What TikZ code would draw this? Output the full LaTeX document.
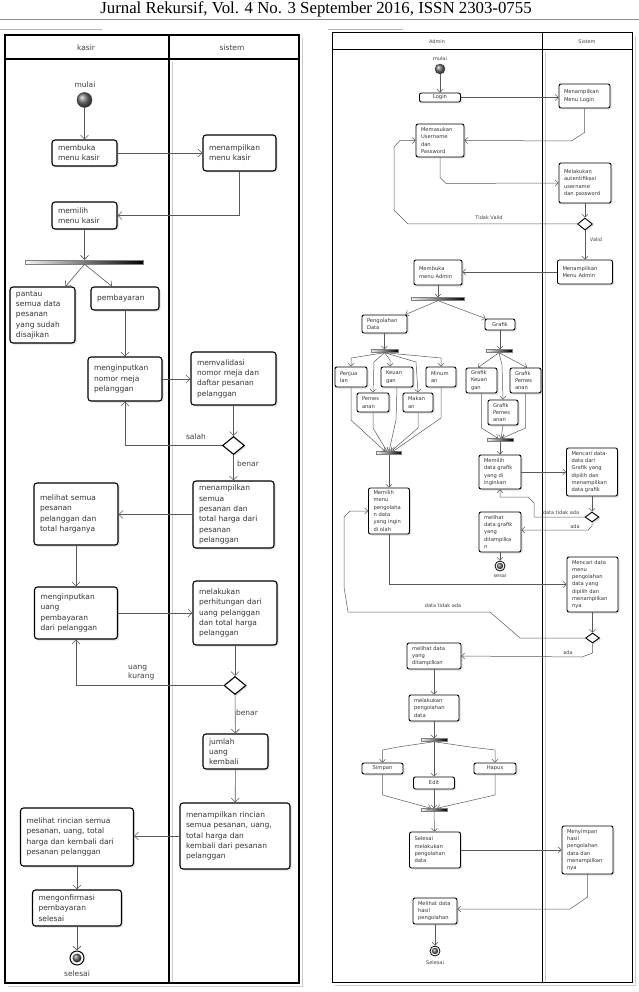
\documentclass[tikz,border=0pt]{standalone}
\usepackage{fontspec}
\setmainfont{DejaVu Sans}
\newfontfamily\jurnalfont{Liberation Serif}
\usetikzlibrary{arrows.meta,shapes.geometric,shadows}

\begin{document}
\begin{tikzpicture}[
x=1pt, y=-1pt,
aksi/.style={
draw,
rounded corners=3pt,
line width=1.1pt,
fill=white,
align=left,
text=black!80,
inner xsep=6pt,
inner ysep=1pt,
font=\fontsize{7.5}{10.3}\selectfont,
drop shadow={shadow xshift=1.5pt, shadow yshift=-1.5pt, opacity=.25}
},
aksikecil/.style={
aksi,
rounded corners=2pt,
line width=0.9pt,
inner xsep=5pt,
font=\fontsize{5.2}{7.3}\selectfont
},
teks/.style={text=black!75, inner sep=1pt, font=\fontsize{7.5}{9}\selectfont},
tekskecil/.style={text=black!75, inner sep=1pt, font=\fontsize{5}{6}\selectfont},
batang/.style={draw=black!50, left color=black!5, right color=black, inner sep=0pt, minimum height=4pt},
keputusan/.style={diamond, draw, fill=white, line width=1.1pt, inner sep=0pt,
drop shadow={shadow xshift=1.5pt, shadow yshift=-1.5pt, opacity=.25}},
awal/.style={circle, draw=black!80, ball color=black!55, inner sep=0pt},
akhir/.style={circle, draw, line width=1pt, fill=white, inner sep=0pt},
panah/.style={draw=black!65, line width=0.6pt, -{Straight Barb[length=4pt,width=8pt]}},
panahkecil/.style={draw=black!65, line width=0.5pt, -{Straight Barb[length=3pt,width=6pt]}}
]

\useasboundingbox (0,0) rectangle (639,992);

% kop jurnal
\node[anchor=base, text=black] (judul) at (316,14)
{\jurnalfont\fontsize{16.8}{17}\selectfont Jurnal Rekursif, Vol. 4 No. 3 September 2016, ISSN 2303-0755};
\draw[black!45, line width=0.8pt] (0,19.5) -- (639,19.5);
\draw[black!30, line width=0.6pt] (0,29) -- (102,29);
\draw[black!30, line width=0.6pt] (328,29) -- (403,29);

% ---------- diagram kasir ----------
\draw[black!20, line width=1pt] (302,38) -- (302,986) -- (8,986);
\draw[black!20, line width=1pt] (172,62) -- (172,983);
\draw[line width=1.3pt] (5,35) rectangle (299,983);
\draw[line width=1.3pt] (5,59) -- (299,59);
\draw[line width=1.3pt] (169,35) -- (169,983);

\node[teks] (hk1) at (86,48) {kasir};
\node[teks] (hk2) at (232,48) {sistem};

\node[teks] (lk1) at (85,85) {mulai};
\node[awal, minimum size=15pt] (k1) at (84.5,100) {};

\node[aksi, text width=53pt, minimum height=26pt] (k2) at (84.5,153)
{membuka\\menu kasir};

\node[aksi, text width=61pt, minimum height=36pt] (k3) at (239.5,153)
{menampilkan\\menu kasir};

\node[aksi, text width=53pt, minimum height=27pt] (k4) at (84.5,215.5)
{memilih\\menu kasir};

\node[batang, minimum width=118pt] (k5) at (84.5,262) {};

\node[aksi, text width=53pt, minimum height=56pt] (k6) at (42.5,315)
{pantau\\semua data\\pesanan\\yang sudah\\disajikan};

\node[aksi, text width=56pt, minimum height=23pt] (k7) at (125,298.5)
{pembayaran};

\node[aksi, text width=62pt, minimum height=44pt] (k8) at (125,379)
{menginputkan\\nomor meja\\pelanggan};

\node[aksi, text width=73pt, minimum height=53pt] (k9) at (233.5,378.5)
{memvalidasi\\nomor meja dan\\daftar pesanan\\pelanggan};

\node[keputusan, minimum width=22pt, minimum height=18pt] (k10) at (233.5,445.5) {};

\node[aksi, text width=69pt, minimum height=67pt] (k11) at (233.5,514.5)
{menampilkan\\semua\\pesanan dan\\total harga dari\\pesanan\\pelanggan};

\node[aksi, text width=72pt, minimum height=62pt] (k12) at (76,514)
{melihat semua\\pesanan\\pelanggan dan\\total harganya};

\node[aksi, text width=71pt, minimum height=52pt] (k13) at (76,613)
{menginputkan\\uang\\pembayaran\\dari pelanggan};

\node[aksi, text width=72pt, minimum height=64pt] (k14) at (235,613)
{melakukan\\perhitungan dari\\uang pelanggan\\dan total harga\\pelanggan};

\node[keputusan, minimum width=22pt, minimum height=18pt] (k15) at (235,685.5) {};

\node[aksi, text width=53pt, minimum height=35pt] (k16) at (235.5,751.5)
{jumlah\\uang\\kembali};

\node[aksi, text width=98pt, minimum height=66pt] (k17) at (235,836)
{menampilkan rincian\\semua pesanan, uang,\\total harga dan\\kembali dari pesanan\\pelanggan};

\node[aksi, text width=101pt, minimum height=58pt] (k18) at (77,837)
{melihat rincian semua\\pesanan, uang, total\\harga dan kembali dari\\pesanan pelanggan};

\node[aksi, text width=77pt, minimum height=36pt] (k19) at (77,908)
{mengonfirmasi\\pembayaran\\selesai};

\node[akhir, minimum size=14pt] (k20) at (77,958) {};
\shade[ball color=black!60] (k20) circle (4.5pt);
\node[teks] (lk2) at (77,974) {selesai};

\draw[panah] (k1) -- (k2);
\draw[panah] (k2) -- (k3);
\draw[panah] (k3.south) |- (k4.east);
\draw[panah] (k4) -- (k5);
\draw[panah] (k5.south) -- ([xshift=-10pt]k6.north east);
\draw[panah] (k5.south) -- ([xshift=-13pt]k7.north);
\draw[panah] (k7) -- (k8);
\draw[panah] (k8.east) -- (k8.east -| k9.west);
\draw[panah] (k9) -- (k10);
\draw[panah] (k10.west) -| (k8.south);
\draw[panah] (k10) -- (k11);
\draw[panah] (k11.west) -- (k11.west -| k12.east);
\draw[panah] (k12) -- (k13);
\draw[panah] (k13) -- (k14);
\draw[panah] (k14) -- (k15);
\draw[panah] (k15.west) -| (k13.south);
\draw[panah] (k15) -- (k16);
\draw[panah] (k16) -- (k17);
\draw[panah] (k17.west) -- (k17.west -| k18.east);
\draw[panah] (k18) -- (k19);
\draw[panah] (k19) -- (k20);

\node[teks] (lk3) at (196,437) {salah};
\node[teks] (lk4) at (248,464) {benar};
\node[teks, anchor=west, align=left] (lk5) at (127,673) {uang\\kurang};
\node[teks] (lk6) at (247,713) {benar};

% ---------- diagram admin ----------
\draw[black!20, line width=0.9pt] (635,36) -- (635,985) -- (335,985);
\draw[black!20, line width=0.9pt] (545,52) -- (545,982);
\draw[line width=1pt] (332,33) rectangle (632,982);
\draw[line width=1pt] (332,50) -- (632,50);
\draw[line width=1pt] (542,33) -- (542,982);

\node[tekskecil] (ha1) at (437,42) {Admin};
\node[tekskecil] (ha2) at (587,42) {Sistem};

\node[tekskecil] (la1) at (440,59) {mulai};
\node[awal, minimum size=10pt] (a1) at (440,69) {};

\node[aksikecil, text width=31pt, minimum height=9pt, align=center] (a2) at (440,97.5)
{Login};

\node[aksikecil, text width=41pt, minimum height=24pt] (a3) at (584.5,96)
{Menampilkan\\Menu Login};

\node[aksikecil, text width=38pt, minimum height=33pt] (a4) at (440,140.5)
{Memasukan\\Username\\dan\\Password};

\node[aksikecil, text width=42pt, minimum height=40pt] (a5) at (585,183)
{Melakukan\\autentifikasi\\username\\dan password};

\node[keputusan, line width=0.9pt, minimum width=15pt, minimum height=12pt] (a6) at (585,224) {};

\node[aksikecil, text width=45pt, minimum height=24pt] (a7) at (585,272)
{Menampilkan\\Menu Admin};

\node[aksikecil, text width=38pt, minimum height=25pt] (a8) at (438,272.5)
{Membuka\\menu Admin};

\node[batang, minimum width=53pt, minimum height=3pt] (a9) at (438,299) {};

\node[aksikecil, text width=35pt, minimum height=18pt] (a10) at (384.5,324)
{Pengolahan\\Data};

\node[aksikecil, text width=20pt, minimum height=11pt, align=center] (a11) at (500,324.5)
{Grafik};

\node[batang, minimum width=27pt, minimum height=3pt] (a12) at (384.5,351) {};
\node[batang, minimum width=26pt, minimum height=3pt] (a13) at (499,351) {};

\node[aksikecil, text width=22pt, minimum height=20pt] (a14) at (351,377)
{Penjua\\lan};
\node[aksikecil, text width=22pt, minimum height=20pt] (a15) at (397,377)
{Keuan\\gan};
\node[aksikecil, text width=20pt, minimum height=20pt] (a16) at (441,377)
{Minum\\an};
\node[aksikecil, text width=22pt, minimum height=19pt] (a17) at (373,402.5)
{Pemes\\anan};
\node[aksikecil, text width=20pt, minimum height=19pt] (a18) at (418,402.5)
{Makan\\an};

\node[batang, minimum width=25pt, minimum height=3pt] (a19) at (389,453) {};

\node[aksikecil, text width=21pt, minimum height=25pt] (a20) at (481.5,380.5)
{Grafik\\Keuan\\gan};
\node[aksikecil, text width=21pt, minimum height=25pt] (a21) at (525.5,380.5)
{Grafik\\Pemes\\anan};
\node[aksikecil, text width=20pt, minimum height=25pt] (a22) at (503,412.5)
{Grafik\\Pemes\\anan};

\node[batang, minimum width=26pt, minimum height=3pt] (a23) at (500,440) {};

\node[aksikecil, text width=32pt, minimum height=34pt] (a24) at (500,472)
{Memilih\\data grafik\\yang di\\inginkan};

\node[aksikecil, text width=41pt, minimum height=48pt] (a25) at (592,472)
{Mencari data-\\data dari\\Grafik yang\\dipilih dan\\menampilkan\\data grafik};

\node[keputusan, line width=0.9pt, minimum width=14pt, minimum height=10pt] (a26) at (592,517) {};

\node[aksikecil, text width=32pt, minimum height=40pt] (a27) at (500,532)
{melihat\\data grafik\\yang\\ditampilka\\n};

\node[akhir, line width=0.8pt, minimum size=10pt] (a28) at (500,566) {};
\shade[ball color=black!60] (a28) circle (3.2pt);
\node[tekskecil] (la2) at (500,576) {sesai};

\node[aksikecil, text width=31pt, minimum height=46pt] (a29) at (389,511)
{Memilih\\menu\\pengolaha\\n data\\yang ingin\\di olah};

\node[aksikecil, text width=41pt, minimum height=55pt] (a30) at (592.5,584.5)
{Mencari data\\menu\\pengolahan\\data yang\\dipilih dan\\menampilkan\\nya};

\node[keputusan, line width=0.9pt, minimum width=14pt, minimum height=10pt] (a31) at (592.5,638) {};

\node[aksikecil, text width=44pt, minimum height=26pt] (a32) at (434,656)
{melihat data\\yang\\ditampilkan};

\node[aksikecil, text width=40pt, minimum height=26pt] (a33) at (434,708)
{melakukan\\pengolahan\\data};

\node[batang, minimum width=26pt, minimum height=3pt] (a34) at (434,740) {};

\node[aksikecil, text width=31pt, minimum height=11pt, align=center] (a35) at (382.5,768.5)
{Simpan};
\node[aksikecil, text width=31pt, minimum height=12pt, align=center] (a36) at (434,783)
{Edit};
\node[aksikecil, text width=32pt, minimum height=11pt, align=center] (a37) at (495,768.5)
{Hapus};

\node[batang, minimum width=26pt, minimum height=3pt] (a38) at (434,810) {};

\node[aksikecil, text width=41pt, minimum height=36pt] (a39) at (435,850)
{Selesai\\melakukan\\pengolahan\\data};

\node[aksikecil, text width=41pt, minimum height=48pt] (a40) at (587.5,850)
{Menyimpan\\hasil\\pengolahan\\data dan\\menampilkan\\nya};

\node[aksikecil, text width=34pt, minimum height=26pt] (a41) at (435,911)
{Melihat data\\hasil\\pengolahan};

\node[akhir, line width=0.8pt, minimum size=10pt] (a42) at (435,951) {};
\shade[ball color=black!60] (a42) circle (3.2pt);
\node[tekskecil] (la3) at (435,963) {Selesai};

\draw[panahkecil] (a1) -- (a2);
\draw[panahkecil] (a2.east) -- (a2.east -| a3.west);
\draw[panahkecil] (a3.south) -- ++(0,24) -- ++(-13,8.5) -- (a4.east);
\draw[panahkecil] (a4.south) -- ++(0,20) -- ++(6,6) -- (a5.west);
\draw[panahkecil] (a5) -- (a6);
\draw[panahkecil] (a6.west) -- (408,224) -- (394,210) -- (394,147) -- (400,140.5) -- (a4.west);
\draw[panahkecil] (a6) -- (a7);
\draw[panahkecil] (a7.west) -- (a7.west -| a8.east);
\draw[panahkecil] (a8) -- (a9);
\draw[panahkecil] (a9.south) -- ([xshift=-2pt]a10.north east);
\draw[panahkecil] (a9.south) -- ([xshift=1pt]a11.north west);
\draw[panahkecil] (a10) -- (a12);
\draw[panahkecil] (a11.south) -- (a11.south |- a13.north);
\draw[panahkecil] (a12.south) -- (351,358) -- (a14.north);
\draw[panahkecil] (a12.south) -- (390,360) -- ([xshift=-7pt]a15.north);
\draw[panahkecil] (a12.south) -- (441,358) -- (a16.north);
\draw[panahkecil] (a12.south) -- (374,362) -- (a17.north);
\draw[panahkecil] (a12.south) -- (416,362) -- (a18.north);
\draw[panahkecil] (a14.south) -- (351,420) -- ([xshift=-4pt]a19.north);
\draw[panahkecil] (a17.south) -- (373,428) -- ([xshift=-2pt]a19.north);
\draw[panahkecil] (a15.south) -- (396,420) -- (a19.north);
\draw[panahkecil] (a18.south) -- (418,428) -- ([xshift=2pt]a19.north);
\draw[panahkecil] (a16.south) -- (441,418) -- ([xshift=4pt]a19.north);
\draw[panahkecil] (a19) -- (a29);
\draw[panahkecil] (a13.south) -- ([xshift=-3.5pt]a20.north);
\draw[panahkecil] (a13.south) -- ([xshift=1.5pt]a21.north);
\draw[panahkecil] (a13.south) -- (502,365) -- (a22.north);
\draw[panahkecil] (a20.south) -- (481.5,428) -- ([xshift=-2pt]a23.north);
\draw[panahkecil] (a21.south) -- (525.5,428) -- ([xshift=2pt]a23.north);
\draw[panahkecil] (a22.south) -- ([xshift=1pt]a23.north);
\draw[panahkecil] (a23) -- (a24);
\draw[panahkecil] (a24) -- (a25);
\draw[panahkecil] (a25) -- (a26);
\draw[panahkecil] (a26.west) -- (534,517) -- (534,503) -- (528,497) -- (500,497) -- (a24.south);
\draw[panahkecil] (a26.south) -- (592,526) -- (588,530) -- ([yshift=2pt]a27.east);
\draw[panahkecil] (a27) -- (a28);
\draw[panahkecil] (a29.south) |- (a30.west);
\draw[panahkecil] (a30) -- (a31);
\draw[panahkecil] (a31.west) -- (520,638) -- (490,612) -- (348,612) -- (344,587) -- (344,517) -- (350,511) -- (a29.west);
\draw[panahkecil] (a31.south) -- (592.5,653) -- (582,657) -- (a32.east);
\draw[panahkecil] (a32) -- (a33);
\draw[panahkecil] (a33) -- (a34);
\draw[panahkecil] (a34.south) -- (398,747) -- (382.5,750) -- (a35.north);
\draw[panahkecil] (a34) -- (a36);
\draw[panahkecil] (a34.south) -- (470,747) -- (495,750) -- (a37.north);
\draw[panahkecil] (a35.south) -- (382.5,795) -- ([xshift=-3pt]a38.north);
\draw[panahkecil] (a36) -- (a38);
\draw[panahkecil] (a37.south) -- (495,795) -- ([xshift=3pt]a38.north);
\draw[panahkecil] (a38) -- (a39);
\draw[panahkecil] (a39) -- (a40);
\draw[panahkecil] (a40.south) -- (587.5,897) -- (570,909) -- ([yshift=2pt]a41.east);
\draw[panahkecil] (a41) -- (a42);

\node[tekskecil] (la4) at (489,218) {Tidak Valid};
\node[tekskecil] (la5) at (596,240) {Valid};
\node[tekskecil] (la6) at (561,513) {data tidak ada};
\node[tekskecil] (la7) at (575,527) {ada};
\node[tekskecil] (la8) at (443,606) {data tidak ada};
\node[tekskecil] (la9) at (568,653) {ada};

\end{tikzpicture}
\end{document}
